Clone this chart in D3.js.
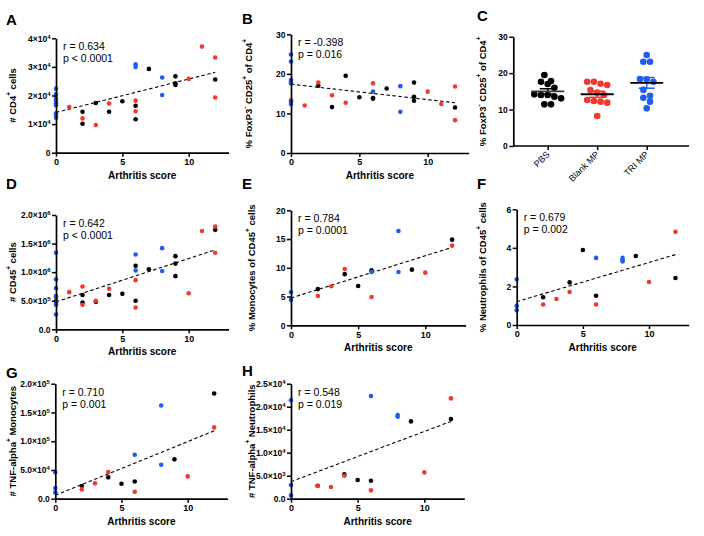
<!DOCTYPE html>
<html><head><meta charset="utf-8">
<script src="https://cdn.jsdelivr.net/npm/d3@7"></script>
<style>
html,body{margin:0;padding:0;background:#fff;}
svg{display:block;font-family:"Liberation Sans",Arial,sans-serif;}
</style></head>
<body>
<svg id="chart" width="704" height="536"></svg>
<script>
// ---------------- DATA ----------------
const scoreTicks = [0, 5, 10];
const groupNames = ["PBS", "Blank MP", "TRI MP"];
const groupColors = ["#000000", "#f2382f", "#1f5cf2"];

// Panel A: # CD4+ cells
const A_pbs   = [[2,1.43e4],[2,1.01e4],[3,1.74e4],[4,1.43e4],[5,1.8e4],[6,1.64e4],[6,1.17e4],[7,2.93e4],[9,2.67e4],[9,2.43e4],[9,2.37e4],[12,2.56e4]];
const A_blank = [[1,1.6e4],[2,1.2e4],[3,0.97e4],[4,1.72e4],[6,1.82e4],[6,1.45e4],[10,2.58e4],[11,3.71e4],[12,3.33e4],[12,1.93e4]];
const A_tri   = [[0,2.24e4],[0,2.04e4],[0,1.9e4],[0,1.81e4],[0,1.73e4],[0,1.66e4],[0,1.38e4],[0,1.3e4],[0,1.22e4],[6,3.09e4],[6,3.0e4],[8,2.63e4],[8,2.02e4]];
const A_fit   = [[0,1.41e4],[12,2.81e4]];
const A_ticks = [0,1e4,2e4,3e4,4e4];
const A_tickLabels = ["0","1×10^4","2×10^4","3×10^4","4×10^4"];

// Panel B: % FoxP3- CD25+ of CD4+
const B_pbs   = [[2,17.0],[3,11.6],[4,19.5],[5,14.1],[6,13.9],[6,13.7],[7,16.3],[9,17.8],[9,14.2],[9,13.2],[12,11.5]];
const B_blank = [[0,13.3],[1,12.0],[2,17.8],[3,14.6],[4,12.7],[6,17.6],[10,15.5],[11,12.4],[12,16.8],[12,8.3]];
const B_tri   = [[0,24.9],[0,23.1],[0,18.45],[0,18.0],[0,17.6],[0,13.0],[0,12.4],[6,15.5],[8,16.9],[8,10.4]];
const B_fit   = [[0,17.4],[12,12.7]];
const B_ticks = [0,10,20,30];
const B_tickLabels = ["0","10","20","30"];

// Panel C: % FoxP3- CD25+ of CD4+ by treatment
const C_pbs   = [19.5,17.84,17.65,17.0,16.0,14.18,14.0,14.0,13.54,13.08,11.43,11.43];
const C_blank = [17.65,17.1,16.74,17.65,15.37,14.64,14.0,12.35,12.17,11.9,12.62,8.23];
const C_tri   = [24.97,23.14,23.14,18.3,18.4,17.65,15.4,13.26,13.8,12.17,10.34];
const C_ticks = [0,10,20,30];

// Panel D: # CD45+ cells
const D_pbs   = [[2,0.6e6],[2,0.47e6],[3,0.48e6],[4,0.6e6],[5,0.62e6],[6,1.11e6],[6,0.5e6],[7,1.05e6],[9,1.28e6],[9,1.15e6],[9,0.93e6],[12,1.74e6]];
const D_blank = [[0,0.55e6],[1,0.65e6],[2,0.75e6],[2,0.43e6],[3,0.5e6],[4,0.71e6],[6,0.86e6],[6,0.38e6],[10,0.63e6],[11,1.72e6],[12,1.8e6],[12,1.34e6]];
const D_tri   = [[0,1.34e6],[0,0.875e6],[0,0.72e6],[0,0.58e6],[0,0.5e6],[0,0.47e6],[0,0.43e6],[0,0.26e6],[6,1.31e6],[6,1.03e6],[8,1.42e6],[8,1.02e6]];
const D_fit   = [[0,0.48e6],[12,1.39e6]];
const D_ticks = [0,0.5e6,1e6,1.5e6,2e6];
const D_tickLabels = ["0.0","5.0×10^5","1.0×10^6","1.5×10^6","2.0×10^6"];

// Panel E: % Monocytes of CD45+ cells
const E_pbs   = [[2,6.3],[4,8.9],[5,6.84],[6,9.57],[9,9.68],[12,14.9]];
const E_blank = [[2,5.1],[3,6.8],[4,9.8],[6,4.93],[10,9.16],[12,13.86]];
const E_tri   = [[0,5.74],[0,4.4],[6,9.28],[8,16.4],[8,9.28]];
const E_fit   = [[0,4.75],[12,13.56]];
const E_ticks = [0,5,10,15,20];
const E_tickLabels = ["0","5","10","15","20"];

// Panel F: % Neutrophils of CD45+ cells
const F_pbs   = [[2,1.44],[4,2.21],[5,3.89],[6,1.52],[9,3.58],[12,2.44]];
const F_blank = [[2,1.06],[3,1.35],[4,1.71],[6,1.06],[10,2.23],[12,4.83]];
const F_tri   = [[0,2.37],[0,0.99],[0,0.76],[6,3.48],[8,3.48],[8,3.37],[8,3.29]];
const F_fit   = [[0,1.21],[12,3.65]];
const F_ticks = [0,2,4,6];
const F_tickLabels = ["0","2","4","6"];

// Panel G: # TNF-alpha+ Monocytes
const G_pbs   = [[2,0.22e5],[4,0.371e5],[5,0.261e5],[6,0.30e5],[9,0.684e5],[12,1.83e5]];
const G_blank = [[2,0.162e5],[3,0.267e5],[4,0.464e5],[6,0.12e5],[10,0.388e5],[12,1.24e5]];
const G_tri   = [[0,0.458e5],[0,0.186e5],[0,0.11e5],[6,0.765e5],[8,1.62e5],[8,0.59e5]];
const G_fit   = [[0,0.058e5],[12,1.18e5]];
const G_ticks = [0,0.5e5,1e5,1.5e5,2e5];
const G_tickLabels = ["0.0","5.0×10^4","1.0×10^5","1.5×10^5","2.0×10^5"];

// Panel H: # TNF-alpha+ Neutrophils
const H_pbs   = [[2,2.83e3],[4,5.29e3],[5,4.06e3],[6,3.9e3],[9,16.8e3],[12,17.3e3]];
const H_blank = [[2,2.75e3],[3,2.54e3],[4,5.0e3],[6,1.81e3],[10,5.72e3],[12,21.8e3]];
const H_tri   = [[0,21.4e3],[0,2.97e3],[0,0.72e3],[6,22.3e3],[8,18.2e3],[8,17.8e3]];
const H_fit   = [[0,3.7e3],[12,16.8e3]];
const H_ticks = [0,5e3,10e3,15e3,20e3,25e3];
const H_tickLabels = ["0.0","5.0×10^3","1.0×10^4","1.5×10^4","2.0×10^4","2.5×10^4"];

// ---------------- DRAWING ----------------
const svg = d3.select("#chart");
const FONT = '"Liberation Sans",Arial,sans-serif';

function rich(text, str, supSize) {
  text.text(null);
  str.split(/(\^[^\s]+)/).forEach(p => {
    if (!p) return;
    if (p[0] === "^") text.append("tspan").attr("baseline-shift", "super").attr("font-size", supSize).text(p.slice(1));
    else text.append("tspan").text(p);
  });
}

function styleAxis(g) {
  g.select(".domain").attr("stroke", "#000").attr("stroke-width", 1.7);
  g.selectAll(".tick line").attr("stroke", "#000").attr("stroke-width", 1.5);
  g.selectAll(".tick text").attr("fill", "#000").attr("font-family", FONT).attr("font-weight", "bold").attr("font-size", 8.5);
}

const scatterPanels = [
  {letter:"A", lx:6, ly:25, groups:[A_pbs,A_blank,A_tri], fit:A_fit, ticks:A_ticks, labels:A_tickLabels, ymax:4e4,
   xr:[56,228.5], yr:[152.7,38.3], ylab:"# CD4^+ cells", ylabX:13, r:"r = 0.634", p:"p < 0.0001"},
  {letter:"B", lx:242, ly:24, groups:[B_pbs,B_blank,B_tri], fit:B_fit, ticks:B_ticks, labels:B_tickLabels, ymax:30,
   xr:[291,468.7], yr:[153,34.3], ylab:"% FoxP3^- CD25^+ of CD4^+", ylabX:249, r:"r = -0.398", p:"p = 0.016"},
  {letter:"D", lx:6, ly:189, groups:[D_pbs,D_blank,D_tri], fit:D_fit, ticks:D_ticks, labels:D_tickLabels, ymax:2e6,
   xr:[56,228.5], yr:[329.3,215], ylab:"# CD45^+ cells", ylabX:13, r:"r = 0.642", p:"p < 0.0001"},
  {letter:"E", lx:242, ly:189, groups:[E_pbs,E_blank,E_tri], fit:E_fit, ticks:E_ticks, labels:E_tickLabels, ymax:20,
   xr:[291,465.6], yr:[325.3,210.3], ylab:"% Monocytes of CD45^+ cells", ylabX:252, r:"r = 0.784", p:"p = 0.0001"},
  {letter:"F", lx:477, ly:189, groups:[F_pbs,F_blank,F_tri], fit:F_fit, ticks:F_ticks, labels:F_tickLabels, ymax:6,
   xr:[516.7,688.7], yr:[325,209.3], ylab:"% Neutrophils of CD45^+ cells", ylabX:483, r:"r = 0.679", p:"p = 0.002"},
  {letter:"G", lx:6, ly:378, groups:[G_pbs,G_blank,G_tri], fit:G_fit, ticks:G_ticks, labels:G_tickLabels, ymax:2e5,
   xr:[55.3,227.4], yr:[498.7,383.7], ylab:"# TNF-alpha^+ Monocytes", ylabX:13, r:"r = 0.710", p:"p = 0.001"},
  {letter:"H", lx:242, ly:376, groups:[H_pbs,H_blank,H_tri], fit:H_fit, ticks:H_ticks, labels:H_tickLabels, ymax:2.5e4,
   xr:[291,464.3], yr:[498.7,383.7], ylab:"# TNF-alpha^+ Neutrophils", ylabX:252, r:"r = 0.548", p:"p = 0.019"}
];

function letter(t, x, y) {
  svg.append("text").attr("x", x).attr("y", y).attr("font-family", FONT).attr("font-weight", "bold")
    .attr("font-size", 15).attr("fill", "#000").text(t);
}

function yLabel(str, x, yc) {
  const t = svg.append("text").attr("transform", `translate(${x},${yc}) rotate(-90)`)
    .attr("text-anchor", "middle").attr("dominant-baseline", "middle")
    .attr("font-family", FONT).attr("font-weight", "bold").attr("font-size", 9.5).attr("fill", "#000");
  rich(t, str, 6.5);
}

scatterPanels.forEach(P => {
  const x = d3.scaleLinear().domain([0, 13]).range(P.xr);
  const y = d3.scaleLinear().domain([0, P.ymax]).range(P.yr);
  const g = svg.append("g");

  // fit line
  g.append("path").datum(P.fit)
    .attr("d", d3.line().x(d => x(d[0])).y(d => y(d[1])))
    .attr("fill", "none").attr("stroke", "#000").attr("stroke-width", 1.1).attr("stroke-dasharray", "3.5,2.5");

  // dots
  P.groups.forEach((pts, gi) => {
    g.append("g").selectAll("circle").data(pts).join("circle")
      .attr("cx", d => x(d[0])).attr("cy", d => y(d[1])).attr("r", 2.3)
      .attr("fill", groupColors[gi]);
  });

  // axes
  const ya = g.append("g").attr("transform", `translate(${P.xr[0]},0)`)
    .call(d3.axisLeft(y).tickValues(P.ticks).tickSize(4).tickSizeOuter(0).tickPadding(1.5));
  styleAxis(ya);
  ya.selectAll(".tick text").each(function(d, i) { rich(d3.select(this), P.labels[i], 6); });

  const xa = g.append("g").attr("transform", `translate(0,${P.yr[0]})`)
    .call(d3.axisBottom(x).tickValues(scoreTicks).tickSize(4).tickSizeOuter(0).tickPadding(2));
  styleAxis(xa);
  xa.selectAll(".tick text").attr("font-size", 9);

  g.append("text").attr("x", (P.xr[0] + P.xr[1]) / 2).attr("y", P.yr[0] + 26)
    .attr("text-anchor", "middle").attr("font-family", FONT).attr("font-weight", "bold")
    .attr("font-size", 10).attr("fill", "#000").text("Arthritis score");

  g.append("text").attr("x", P.xr[0] + 7).attr("y", P.yr[1] + 12).attr("font-family", FONT)
    .attr("font-size", 10.5).attr("fill", "#000").text(P.r);
  g.append("text").attr("x", P.xr[0] + 7).attr("y", P.yr[1] + 24).attr("font-family", FONT)
    .attr("font-size", 10.5).attr("fill", "#000").text(P.p);

  yLabel(P.ylab, P.ylabX, (P.yr[0] + P.yr[1]) / 2);
  letter(P.letter, P.lx, P.ly);
});

// ---------------- Panel C ----------------
(function() {
  const xr = [513.3, 689];
  const yC = d3.scaleLinear().domain([0, 30]).range([146, 36.7]);
  const xC = d3.scalePoint().domain(groupNames).range([547.7, 646.7]);
  const g = svg.append("g");
  const groups = [C_pbs, C_blank, C_tri];
  const R = 3.3, D = 6.7;
  const meanColors = ["#3a3a3a", "#000", "#000"];

  groups.forEach((vals, gi) => {
    const cx = xC(groupNames[gi]);
    // row-based swarm layout
    const sorted = vals.slice().sort((a, b) => b - a);
    const rows = [];
    sorted.forEach(v => {
      const last = rows[rows.length - 1];
      if (last && Math.abs(yC(last[0]) - yC(v)) < D * 0.95) last.push(v);
      else rows.push([v]);
    });
    const pts = [];
    rows.forEach(row => row.forEach((v, i) => pts.push({v, dx: (i - (row.length - 1) / 2) * D})));

    const m = d3.mean(vals), sem = d3.deviation(vals) / Math.sqrt(vals.length);
    g.append("g").selectAll("circle").data(pts).join("circle")
      .attr("cx", d => cx + d.dx).attr("cy", d => yC(d.v)).attr("r", R).attr("fill", groupColors[gi]);

    // SEM bars
    const col = groupColors[gi];
    g.append("line").attr("x1", cx).attr("x2", cx).attr("y1", yC(m - sem)).attr("y2", yC(m + sem))
      .attr("stroke", col).attr("stroke-width", 1.5);
    [m - sem, m + sem].forEach(v => g.append("line").attr("x1", cx - 8).attr("x2", cx + 8)
      .attr("y1", yC(v)).attr("y2", yC(v)).attr("stroke", col).attr("stroke-width", 1.5));
    g.append("line").attr("x1", cx - 16.5).attr("x2", cx + 16.5).attr("y1", yC(m)).attr("y2", yC(m))
      .attr("stroke", meanColors[gi]).attr("stroke-width", 1.8);
  });

  const ya = g.append("g").attr("transform", `translate(${xr[0]},0)`)
    .call(d3.axisLeft(yC).tickValues(C_ticks).tickSize(4).tickSizeOuter(0).tickPadding(1.5));
  styleAxis(ya);

  const xa = g.append("g").attr("transform", `translate(0,146)`)
    .call(d3.axisBottom(xC).tickSize(4).tickSizeOuter(0));
  xa.select(".domain").remove();
  xa.append("line").attr("x1", xr[0]).attr("x2", xr[1]).attr("stroke", "#000").attr("stroke-width", 1.7);
  styleAxis(xa);
  xa.selectAll(".tick text").attr("font-size", 9).attr("font-weight", "normal")
    .attr("text-anchor", "end").attr("dy", null).attr("y", 0)
    .attr("transform", "translate(2,9) rotate(-45)");

  yLabel("% FoxP3^- CD25^+ of CD4^+", 483, (146 + 36.7) / 2);
  letter("C", 477, 21);
})();
</script>
</body></html>
